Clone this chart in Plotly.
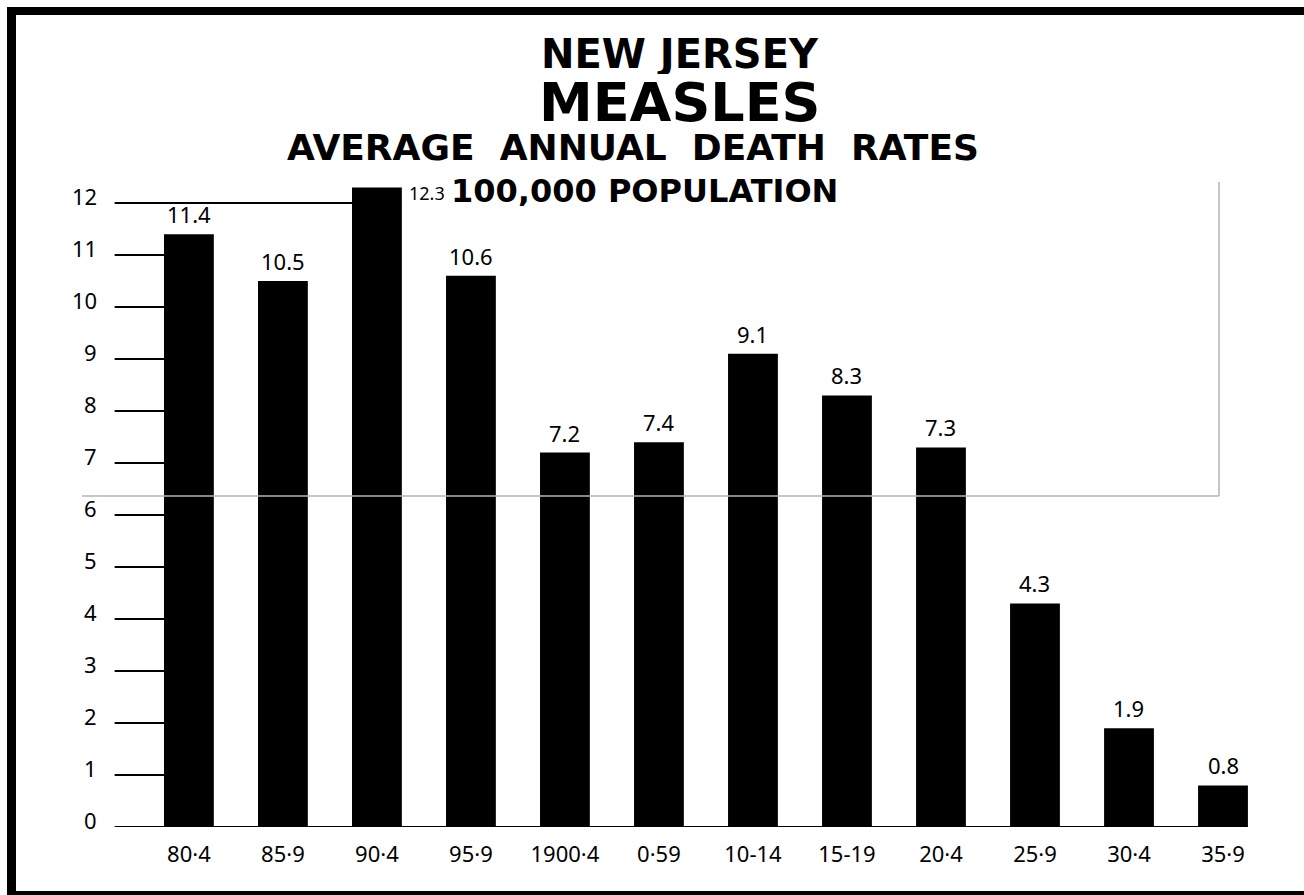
import plotly.graph_objects as go

# ---- data ----
periods = ["80·4", "85·9", "90·4", "95·9", "1900·4", "0·59", "10-14", "15-19", "20·4", "25·9", "30·4", "35·9"]
death_rates = [11.4, 10.5, 12.3, 10.6, 7.2, 7.4, 9.1, 8.3, 7.3, 4.3, 1.9, 0.8]
y_ticks = list(range(0, 13))
y_tick_labels = [str(t) for t in y_ticks]

W, H = 1304, 895
L, R, T, B = 109, 34, 151, 68
PW, PH = W - L - R, H - T - B
BAR_W = 0.53
X0 = -0.79  # start of the tick rules


def px(x):
    return (x - L) / PW


def py(y):
    return (H - B - y) / PH


fig = go.Figure()
fig.add_trace(go.Bar(
    x=periods, y=death_rates, width=BAR_W,
    marker=dict(color="#000000", line=dict(width=0)),
    hoverinfo="x+y", showlegend=False,
))

shapes = []
# tick rules: from the axis to the first bar that reaches the level
for t in y_ticks[1:]:
    idx = next((i for i, v in enumerate(death_rates) if v >= t), len(death_rates))
    x_end = idx - BAR_W / 2
    shapes.append(dict(type="line", xref="x", yref="y", x0=X0, x1=x_end, y0=t, y1=t,
                       line=dict(color="#000000", width=2), layer="below"))
# baseline
shapes.append(dict(type="line", xref="x", yref="y", x0=X0, x1=len(periods) - 1 + BAR_W / 2,
                   y0=0, y1=0, line=dict(color="#000000", width=2), layer="below"))

# black frame of the card (top, left, bottom)
frame = [(7, 7, W, 15), (7, 7, 16, H), (7, 891, W, H)]
for x0, y0, x1, y1 in frame:
    shapes.append(dict(type="rect", xref="paper", yref="paper",
                       x0=px(x0), x1=px(x1), y0=py(y0), y1=py(y1),
                       fillcolor="#000000", line=dict(width=0), layer="above"))
# faint overlay edge from the scan
shapes.append(dict(type="line", xref="paper", yref="paper", x0=px(1219), x1=px(1219),
                   y0=py(182), y1=py(496), line=dict(color="#b4b4b4", width=1.5)))
shapes.append(dict(type="line", xref="paper", yref="paper", x0=px(82), x1=px(1219),
                   y0=py(496), y1=py(496), line=dict(color="#b4b4b4", width=1.5)))

annotations = []
lab_font = dict(family="Noto Sans", size=22, color="#000000")
for i, v in enumerate(death_rates):
    if v == max(death_rates):
        annotations.append(dict(x=i + BAR_W / 2, y=v, xref="x", yref="y", text=f"{v}",
                                showarrow=False, xanchor="left", yanchor="top",
                                xshift=5, yshift=8,
                                font=dict(family="Noto Sans", size=18, color="#000000")))
    else:
        annotations.append(dict(x=i, y=v, xref="x", yref="y", text=f"{v}",
                                showarrow=False, xanchor="center", yanchor="bottom",
                                yshift=3, font=lab_font))

# y tick labels, sitting slightly above their rules as in the original
for t, lab in zip(y_ticks, y_tick_labels):
    annotations.append(dict(x=px(99), y=t, xref="paper", yref="y", text=lab,
                            showarrow=False, xanchor="right", yanchor="middle",
                            yshift=7, font=lab_font))

titles = [
    ("<b>NEW JERSEY</b>", 680, 54, 40, "center", 40),
    ("<b>MEASLES</b>", 680, 102, 54, "center", 46),
    ("<b>AVERAGE  ANNUAL  DEATH  RATES</b>", 633, 147, 36, "center", 34),
    ("<b>100,000 POPULATION</b>", 449, 191, 32, "left", 30),
]
for txt, x, y, s, anc, hgt in titles:
    annotations.append(dict(x=px(x), y=py(y), xref="paper", yref="paper", text=txt,
                            showarrow=False, xanchor=anc, yanchor="middle", height=hgt,
                            font=dict(family="DejaVu Sans", size=s, color="#000000")))

fig.update_layout(
    width=W, height=H,
    margin=dict(l=L, r=R, t=T, b=B, pad=0),
    paper_bgcolor="#ffffff", plot_bgcolor="#ffffff",
    shapes=shapes, annotations=annotations,
    xaxis=dict(range=[-0.85, 11.5], showgrid=False, zeroline=False, showline=False,
               ticks="", tickfont=dict(family="Noto Sans", size=22, color="#000000"),
               ticklabelstandoff=12, fixedrange=True),
    yaxis=dict(range=[0, 13], tickvals=y_ticks, showticklabels=False,
               showgrid=False, zeroline=False, showline=False, ticks="",
               fixedrange=True),
)

fig.write_html("out.html", config={"displayModeBar": False},
               post_script="document.body.style.margin='0';")
